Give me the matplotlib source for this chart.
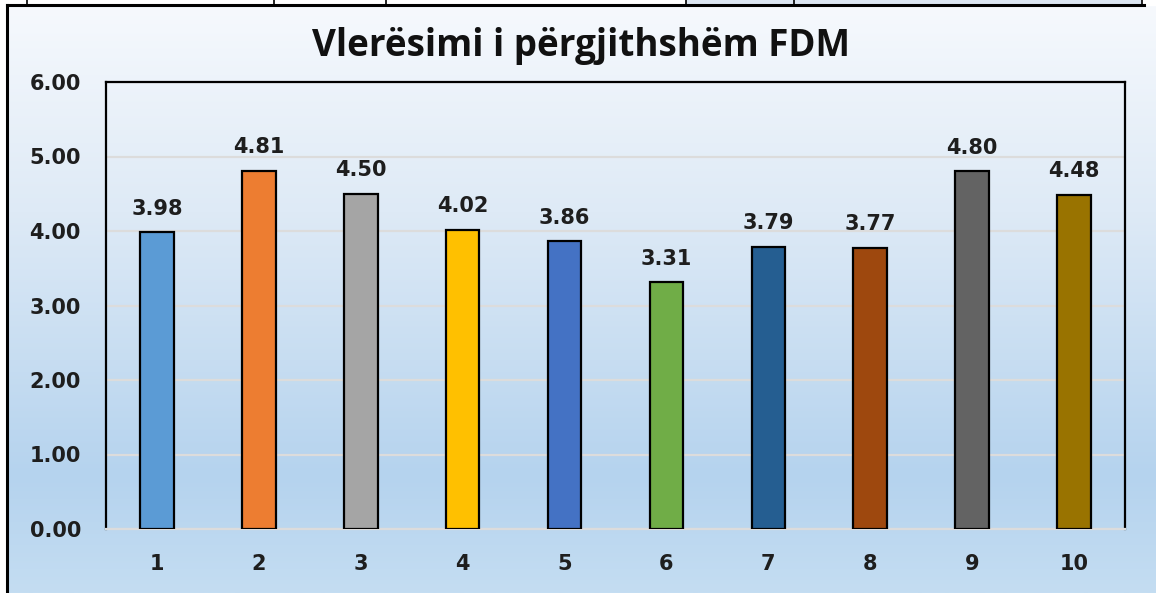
import numpy as np
import matplotlib
matplotlib.use('Agg')
import matplotlib.pyplot as plt
from matplotlib.lines import Line2D
from matplotlib.patches import Rectangle

# data
categories = ['1', '2', '3', '4', '5', '6', '7', '8', '9', '10']
values = [3.98, 4.81, 4.50, 4.02, 3.86, 3.31, 3.79, 3.77, 4.80, 4.48]
bar_colors = ['#5B9BD5', '#ED7D31', '#A5A5A5', '#FFC000', '#4472C4',
              '#70AD47', '#255E91', '#9E480E', '#636363', '#997300']
yticks = [0, 1, 2, 3, 4, 5, 6]
title = 'Vlerësimi i përgjithshëm FDM'

W, H = 1156, 593
fig = plt.figure(figsize=(W / 100, H / 100), dpi=100)
fig.patch.set_facecolor('white')

# chart background gradient (white-ish at top to light blue at bottom)
bg = fig.add_axes([7 / W, 0, (1156 - 7) / W, (H - 6) / H], zorder=0)
stops = np.array([0.0, 0.35, 0.8, 1.0])
cols = np.array([[246, 249, 253], [222, 234, 246], [181, 211, 238], [196, 221, 242]]) / 255.
t = np.linspace(0, 1, 300)
grad = np.stack([np.interp(t, stops, cols[:, k]) for k in range(3)], axis=1)
bg.imshow(grad[:, None, :], aspect='auto', extent=[0, 1, 0, 1], origin='upper')
bg.set_axis_off()

# main plot area
ax = fig.add_axes([106 / W, (H - 529) / H, (1125 - 106) / W, (529 - 82) / H], zorder=2)
ax.set_facecolor('none')
x = np.arange(len(categories))
bars = ax.bar(x, values, width=0.33, color=bar_colors, edgecolor='black', linewidth=1.6, zorder=3)

ax.set_xlim(-0.5, len(categories) - 0.5)
ax.set_ylim(0, 6)
ax.set_yticks(yticks)
ax.set_yticklabels(['%.2f' % v for v in yticks])
ax.set_xticks(x)
ax.set_xticklabels(categories)
ax.tick_params(axis='both', length=0, labelsize=15, labelcolor='#1e1e1e')
ax.tick_params(axis='y', pad=18)
ax.tick_params(axis='x', pad=18)
for lab in ax.get_xticklabels() + ax.get_yticklabels():
    lab.set_fontweight('bold')
ax.yaxis.grid(True, color='#DCDCDC', linewidth=1.6, zorder=1)
ax.set_axisbelow(True)
for side in ['left', 'top', 'right']:
    ax.spines[side].set_color('black')
    ax.spines[side].set_linewidth(1.6)
ax.spines['bottom'].set_color('#DCDCDC')
ax.spines['bottom'].set_linewidth(1.6)

for xi, v in zip(x, values):
    ax.annotate('%.2f' % v, (xi, v), xytext=(0, 10), textcoords='offset points',
                ha='center', va='bottom', fontsize=15, fontweight='bold', color='#1e1e1e')

fig.text(581 / W, 1 - 46 / H, title, ha='center', va='center', fontsize=26.5,
         fontweight='bold', family='Open Sans', color='#111111')

# chart border and the table row above it
def px_line(x0, y0, x1, y1, lw=2.0, color='black'):
    fig.add_artist(Line2D([x0 / W, x1 / W], [1 - y0 / H, 1 - y1 / H], color=color,
                          linewidth=lw, transform=fig.transFigure, zorder=5))

fig.add_artist(Rectangle((686 / W, 1 - 4 / H), (1142 - 686) / W, 4 / H, transform=fig.transFigure,
                         facecolor='#DCE6F2', edgecolor='none', zorder=4))
px_line(7, 5, 1144, 5, lw=2.2)
for vx in [27, 274, 386, 686, 794, 1142]:
    px_line(vx, 0, vx, 5, lw=1.2)
px_line(7, 5, 7, 593, lw=2.2)

fig.savefig('out.png', dpi=100)
